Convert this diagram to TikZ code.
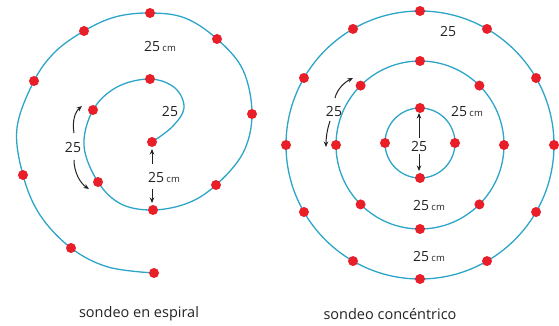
\documentclass[tikz,border=0pt]{standalone}
\usepackage{fontspec}
\setmainfont{Open Sans}
\usetikzlibrary{arrows.meta}
\definecolor{curve}{RGB}{45,165,200}
\definecolor{dotred}{RGB}{232,30,40}
\definecolor{ink}{RGB}{35,35,35}
\tikzset{
  probe/.style={circle,fill=dotred,inner sep=0pt,minimum size=10pt},
  pathline/.style={draw=curve,line width=1.3pt},
  measure/.style={-{Stealth[length=5.5pt,width=4.5pt]},line width=1pt,draw=ink},
  lbl/.style={font=\fontsize{14}{14}\selectfont,text=ink,inner sep=0pt},
  caption/.style={font=\fontsize{14.5}{16}\selectfont,text=ink,inner sep=0pt}
}
\newcommand{\cmunit}{\,{\fontsize{9.5}{10}\selectfont cm}}
\begin{document}
\begin{tikzpicture}[x=1pt,y=-1pt]
\useasboundingbox (0,0) rectangle (559,326);
% ---------- spiral ----------
\coordinate (s1) at (152,142);
\coordinate (s2) at (150,79);
\coordinate (s3) at (93,110);
\coordinate (s4) at (98,182);
\coordinate (s5) at (153,210);
\coordinate (s6) at (216,185);
\coordinate (s7) at (252,114);
\coordinate (s8) at (217,39);
\coordinate (s9) at (150,13);
\coordinate (s10) at (84,31);
\coordinate (s11) at (34,81);
\coordinate (s12) at (23,175);
\coordinate (s13) at (71,248);
\coordinate (s14) at (154,273);
\draw[pathline] plot[smooth,tension=0.6] coordinates {
  (s1) (172,127) (184,108) (175,88) (s2) (117,87) (s3) (84,146) (s4) (121,204)
  (s5) (188,203) (s6) (243,153) (s7) (243,70) (s8) (185,18) (s9) (115,17) (s10)
  (55,52) (s11) (17,128) (s12) (40,215) (s13) (108,267) (s14)};
\foreach \k in {1,...,14} \node[probe] (d\k) at (s\k) {};
\node[lbl] (t1) at (160,47) {25\cmunit};
\node[lbl] (t2) at (170,111) {25};
\node[lbl] (t3) at (73,147) {25};
\node[lbl] (t4) at (164,177) {25\cmunit};
\coordinate (a1) at (152,164);
\coordinate (a2) at (152,149);
\coordinate (a3) at (152,189);
\coordinate (a4) at (152,203);
\draw[measure] (a1) -- (a2);
\draw[measure] (a3) -- (a4);
\coordinate (b1) at (74,133);
\coordinate (b2) at (82,106);
\coordinate (b3) at (74,160);
\coordinate (b4) at (89,189);
\draw[measure] (b1) .. controls (72,121) and (75,112) .. (b2);
\draw[measure] (b3) .. controls (74,172) and (80,183) .. (b4);
% ---------- concentric ----------
\coordinate (cc) at (420,145);
\coordinate (ci) at (420,143);
\draw[pathline] (ci) circle[radius=35];
\draw[pathline] (cc) circle[radius=84];
\draw[pathline] (cc) circle[radius=134];
\foreach \a in {0,90,180,270} \path (ci) ++(\a:35) node[probe] (i\a) {};
\foreach \a in {0,45,...,315} \path (cc) ++(\a:84) node[probe] (m\a) {};
\foreach \a in {0,30,...,330} \path (cc) ++(\a:134) node[probe] (o\a) {};
\node[lbl] (u1) at (448,32) {25};
\node[lbl] (u2) at (467,111) {25\cmunit};
\node[lbl] (u3) at (419,146) {25};
\node[lbl] (u4) at (429,205) {25\cmunit};
\node[lbl] (u5) at (429,256) {25\cmunit};
\node[lbl] (u6) at (334,111) {25};
\coordinate (c1) at (419,138);
\coordinate (c2) at (419,113);
\coordinate (c3) at (419,154);
\coordinate (c4) at (419,171);
\draw[measure] (c1) -- (c2);
\draw[measure] (c3) -- (c4);
\coordinate (e1) at (335,98);
\coordinate (e2) at (353,78);
\coordinate (e3) at (330,121);
\coordinate (e4) at (326,147);
\draw[measure] (e1) .. controls (337,89) and (345,82) .. (e2);
\draw[measure] (e3) .. controls (327,130) and (326,138) .. (e4);
% ---------- captions ----------
\node[caption] (cap1) at (139,314) {sondeo en espiral};
\node[caption] (cap2) at (390,314) {sondeo concéntrico};
\end{tikzpicture}
\end{document}
